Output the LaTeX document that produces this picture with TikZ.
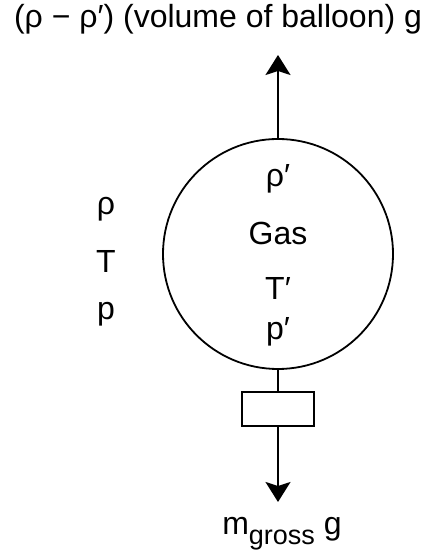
\documentclass[tikz,border=0pt]{standalone}
\usepackage{fontspec}
\setmainfont{Liberation Sans}
\usetikzlibrary{arrows.meta}
\begin{document}
\begin{tikzpicture}[x=1pt,y=1pt,line width=1.8pt,
  lbl/.style={font=\fontsize{32}{38}\selectfont, inner sep=0pt, anchor=base},
  force/.style={-{Stealth[length=20pt,width=25pt,inset=4pt]}}]
\useasboundingbox (0,0) rectangle (430,552);
\node[circle, draw, minimum size=230pt, inner sep=0pt] (balloon) at (278,298) {};
\node[draw, minimum width=72pt, minimum height=34pt, inner sep=0pt] (load) at (278,143) {};
\coordinate (up) at (278,497);
\coordinate (down) at (278,50);
\draw[force] (balloon.north) -- (up);
\draw (balloon.south) -- (load.north);
\draw[force] (load.south) -- (down);
\node[lbl] (buoy) at (218,524) {(ρ − ρ′) (volume of balloon) g};
\node[lbl] (rhoin) at (278,365) {ρ′};
\node[lbl] (gas) at (278,307) {Gas};
\node[lbl] (tin) at (278,252) {T′};
\node[lbl] (pin) at (278,212) {p′};
\node[lbl] (rhoout) at (106,337) {ρ};
\node[lbl] (tout) at (106,279) {T};
\node[lbl] (pout) at (106,232) {p};
\node[lbl] (weight) at (282,17) {m\raisebox{-0.3em}{\fontsize{27}{32}\selectfont gross} g};
\end{tikzpicture}
\end{document}
